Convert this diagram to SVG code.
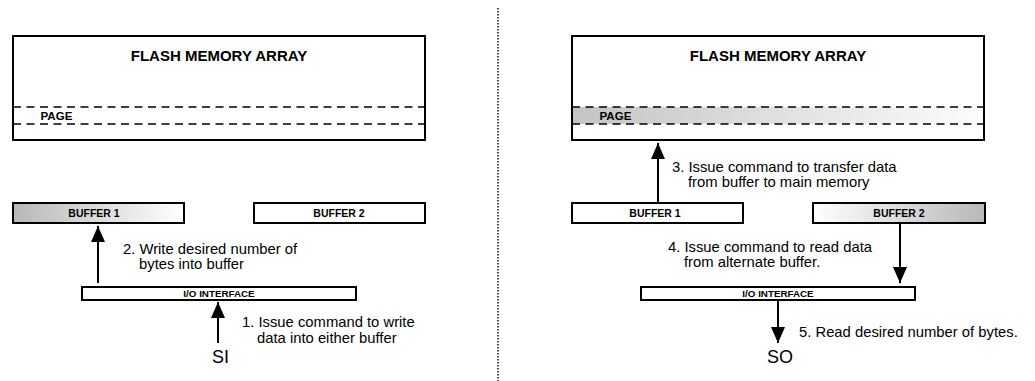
<svg xmlns="http://www.w3.org/2000/svg" width="1035" height="381" viewBox="0 0 1035 381">
<style>
.box{fill:#fff;stroke:#000;stroke-width:2}
.dash{stroke:#000;stroke-width:1.6;stroke-dasharray:8 5.5;fill:none}
.conn{stroke:#000;stroke-width:2;fill:none}
.title{font-family:"Liberation Sans",Arial,sans-serif;font-weight:bold;font-size:15px;text-anchor:middle}
.page{font-family:"Liberation Sans",Arial,sans-serif;font-weight:bold;font-size:11.6px}
.buf{font-family:"Liberation Sans",Arial,sans-serif;font-weight:bold;font-size:10.5px;text-anchor:middle}
.io{font-family:"Liberation Sans",Arial,sans-serif;font-weight:bold;font-size:9.8px;text-anchor:middle}
.lbl{font-family:"Liberation Sans",Arial,sans-serif;font-size:14.8px}
.pin{font-family:"Liberation Sans",Arial,sans-serif;font-size:18px}
</style>
<defs>
<linearGradient id="gL" x1="0" y1="0" x2="1" y2="0"><stop offset="0" stop-color="#b8b8b8"/><stop offset="1" stop-color="#ffffff"/></linearGradient>
<linearGradient id="gR" x1="0" y1="0" x2="1" y2="0"><stop offset="0" stop-color="#ffffff"/><stop offset="1" stop-color="#b8b8b8"/></linearGradient>
<linearGradient id="gP" x1="0" y1="0" x2="1" y2="0"><stop offset="0" stop-color="#c4c4c4"/><stop offset="1" stop-color="#fcfcfc"/></linearGradient>
<marker id="ah" markerUnits="userSpaceOnUse" markerWidth="18" markerHeight="16" refX="16" refY="7" orient="auto"><path d="M0,0 L16,7 L0,14 Z" fill="#000"/></marker>
</defs>
<line x1="498" y1="8" x2="498" y2="381" stroke="#000" stroke-width="1.4" stroke-dasharray="1.5 1.5"/>
<g id="flash-left">
<rect class="box" x="13" y="36" width="412" height="104"/>
<line class="dash" x1="13" y1="107" x2="425" y2="107"/>
<line class="dash" x1="13" y1="124" x2="425" y2="124"/>
<text class="title" x="219" y="60.5">FLASH MEMORY ARRAY</text>
<text class="page" x="40.5" y="119.5">PAGE</text>
</g>
<g id="buffer1-left">
<rect class="box" x="13" y="203" width="171" height="20" style="fill:url(#gL)"/>
<text class="buf" x="94" y="217">BUFFER 1</text>
</g>
<g id="buffer2-left">
<rect class="box" x="254" y="203" width="171" height="20"/>
<text class="buf" x="339" y="217">BUFFER 2</text>
</g>
<g id="io-left">
<rect class="box" x="82" y="287" width="274" height="13"/>
<text class="io" x="219" y="297.3">I/O INTERFACE</text>
</g>
<g id="si">
<text class="pin" x="212" y="363">SI</text>
</g>
<g id="flash-right">
<rect class="box" x="572" y="36" width="412" height="104"/>
<rect x="573" y="107" width="410" height="17" fill="url(#gP)"/>
<line class="dash" x1="572" y1="107" x2="984" y2="107"/>
<line class="dash" x1="572" y1="124" x2="984" y2="124"/>
<text class="title" x="778" y="60.5">FLASH MEMORY ARRAY</text>
<text class="page" x="599.5" y="119.5">PAGE</text>
</g>
<g id="buffer1-right">
<rect class="box" x="572" y="203" width="171" height="20"/>
<text class="buf" x="655" y="217">BUFFER 1</text>
</g>
<g id="buffer2-right">
<rect class="box" x="813" y="203" width="172" height="20" style="fill:url(#gR)"/>
<text class="buf" x="899" y="217">BUFFER 2</text>
</g>
<g id="io-right">
<rect class="box" x="641" y="287" width="274" height="13"/>
<text class="io" x="778" y="297.3">I/O INTERFACE</text>
</g>
<g id="so">
<text class="pin" x="767" y="363">SO</text>
</g>
<g id="connectors">
<line class="conn" x1="98" y1="283" x2="98" y2="226" marker-end="url(#ah)"/>
<line class="conn" x1="218" y1="343" x2="218" y2="302" marker-end="url(#ah)"/>
<line class="conn" x1="658" y1="203" x2="658" y2="143" marker-end="url(#ah)"/>
<line class="conn" x1="900" y1="224" x2="900" y2="283" marker-end="url(#ah)"/>
<line class="conn" x1="778" y1="301" x2="778" y2="343" marker-end="url(#ah)"/>
</g>
<g id="labels">
<text class="lbl" x="123" y="254">2. Write desired number of</text>
<text class="lbl" x="139" y="269">bytes into buffer</text>
<text class="lbl" x="242" y="327">1. Issue command to write</text>
<text class="lbl" x="257" y="342.5">data into either buffer</text>
<text class="lbl" x="672" y="172">3. Issue command to transfer data</text>
<text class="lbl" x="688" y="187">from buffer to main memory</text>
<text class="lbl" x="668" y="251.5">4. Issue command to read data</text>
<text class="lbl" x="684" y="266.5">from alternate buffer.</text>
<text class="lbl" x="799" y="337">5. Read desired number of bytes.</text>
</g>
</svg>
